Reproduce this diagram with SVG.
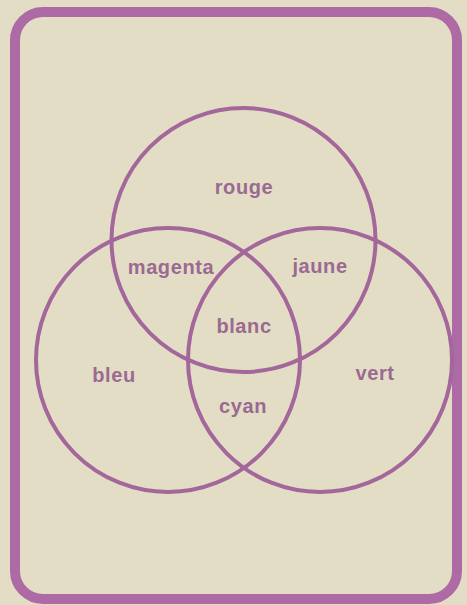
<svg xmlns="http://www.w3.org/2000/svg" width="467" height="605" viewBox="0 0 467 605">
<style>
.frame{fill:none;stroke:#ad6aa5;stroke-width:10}
.ring{fill:none;stroke:#a3679b;stroke-width:4}
.lbl{font-family:"Liberation Sans",Arial,sans-serif;font-weight:bold;font-size:20px;fill:#9a6a92;text-anchor:middle;letter-spacing:0.6px}
</style>
<rect x="0" y="0" width="467" height="605" fill="#e4ddc5"/>
<rect class="frame" x="15" y="12" width="442" height="587" rx="28" ry="28"/>
<g id="rouge-circle"><circle class="ring" cx="243.5" cy="240" r="132"/></g>
<g id="bleu-circle"><circle class="ring" cx="168" cy="360" r="132"/></g>
<g id="vert-circle"><circle class="ring" cx="320" cy="360" r="132"/></g>
<g id="labels">
<text class="lbl" x="244" y="194">rouge</text>
<text class="lbl" x="171" y="274">magenta</text>
<text class="lbl" x="320" y="273">jaune</text>
<text class="lbl" x="244" y="333">blanc</text>
<text class="lbl" x="114" y="382">bleu</text>
<text class="lbl" x="375" y="380">vert</text>
<text class="lbl" x="243" y="413">cyan</text>
</g>
</svg>
